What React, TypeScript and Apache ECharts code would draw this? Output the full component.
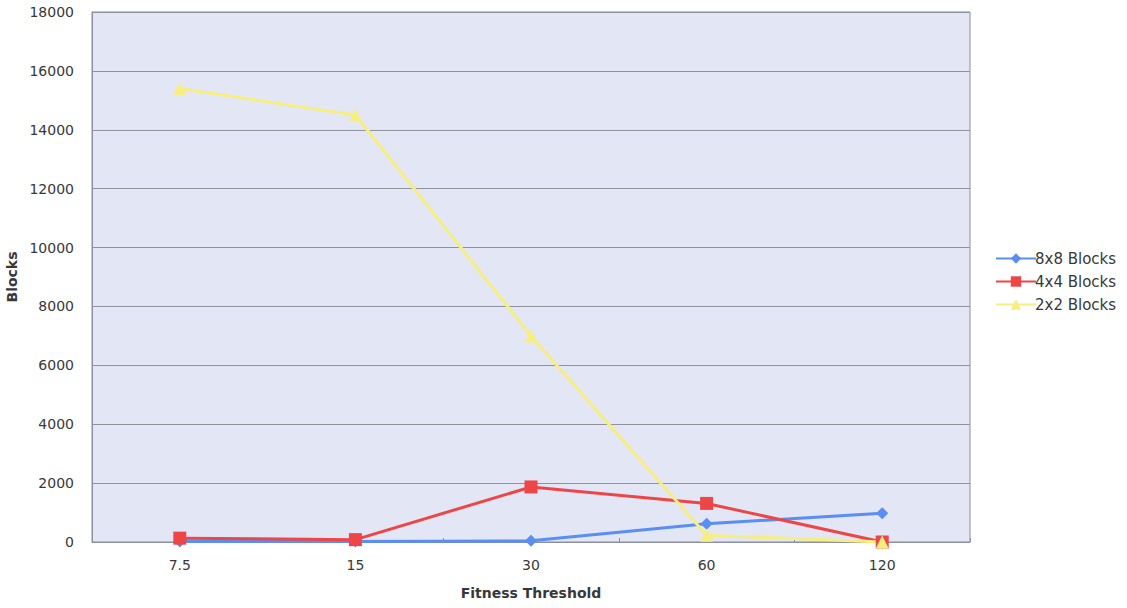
import React, { useEffect, useRef } from "react";
import * as echarts from "echarts";

const thresholds = ["7.5", "15", "30", "60", "120"];
const blocks8x8 = [20, 20, 40, 620, 980];
const blocks4x4 = [130, 80, 1870, 1310, 0];
const blocks2x2 = [15400, 14500, 7000, 230, 0];

const FONT = "DejaVu Sans, Verdana, sans-serif";
const TEXT = "#383838";

export default function App() {
  const ref = useRef<HTMLDivElement>(null);

  useEffect(() => {
    if (!ref.current) return;
    const chart = echarts.init(ref.current, undefined, { renderer: "svg" });
    const mk = (name: string, data: number[], color: string, symbol: string, size: number) => ({
      name,
      type: "line",
      data,
      symbol,
      symbolSize: size,
      lineStyle: { color, width: 3 },
      itemStyle: { color },
      z: 3,
    });
    chart.setOption({
      animation: false,
      backgroundColor: "#ffffff",
      grid: {
        left: 92,
        right: 157,
        top: 12,
        bottom: 66,
        outerBoundsMode: "none",
        containLabel: false,
        show: true,
        backgroundColor: "#e2e6f5",
        borderColor: "#8c909c",
        borderWidth: 1,
      },
      legend: {
        orient: "vertical",
        left: 990,
        top: 246,
        itemWidth: 40,
        itemHeight: 13,
        itemGap: 8,
        textStyle: { fontFamily: FONT, fontSize: 15, color: TEXT, padding: [0, 0, 0, -6] },
        data: ["8x8 Blocks", "4x4 Blocks", "2x2 Blocks"],
      },
      xAxis: {
        type: "category",
        data: thresholds,
        boundaryGap: true,
        name: "Fitness Threshold",
        nameLocation: "middle",
        nameGap: 44,
        nameTextStyle: { fontFamily: FONT, fontSize: 14, fontWeight: "bold", color: TEXT },
        axisLine: { lineStyle: { color: "#8c909c" } },
        axisTick: { show: true, inside: true, length: 4, lineStyle: { color: "#8c909c" } },
        axisLabel: { fontFamily: FONT, fontSize: 14, color: TEXT, margin: 16 },
      },
      yAxis: {
        type: "value",
        min: 0,
        max: 18000,
        interval: 2000,
        name: "Blocks",
        nameLocation: "middle",
        nameGap: 70,
        nameTextStyle: { fontFamily: FONT, fontSize: 14, fontWeight: "bold", color: TEXT },
        axisLine: { show: true, lineStyle: { color: "#8c909c" } },
        axisTick: { show: false },
        splitLine: { lineStyle: { color: "#8f939e", width: 1 } },
        axisLabel: {
          fontFamily: FONT,
          fontSize: 14,
          color: TEXT,
          margin: 18,
          formatter: (v: number) => String(v),
        },
      },
      series: [
        mk("8x8 Blocks", blocks8x8, "#5a8ef2", "diamond", 12),
        mk("4x4 Blocks", blocks4x4, "#ee4646", "rect", 13),
        mk("2x2 Blocks", blocks2x2, "#f7ee82", "triangle", 13),
      ],
    });
    return () => chart.dispose();
  }, []);

  return <div ref={ref} style={{ width: 1127, height: 608, position: "absolute", left: 0, top: 0 }} />;
}
